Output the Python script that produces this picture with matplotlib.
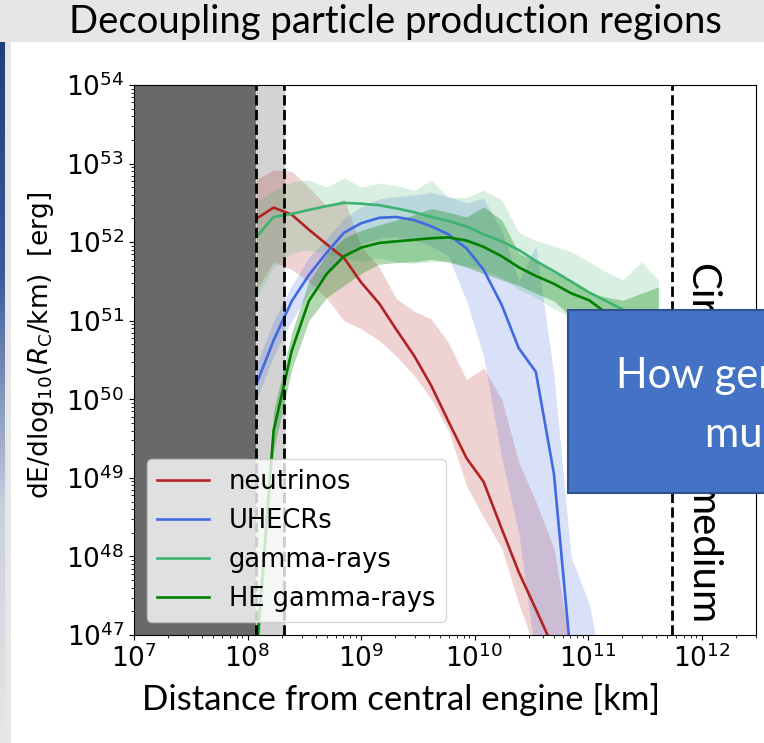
import numpy as np
import matplotlib.pyplot as plt
from matplotlib.patches import Rectangle
from matplotlib.colors import LinearSegmentedColormap

# slide is 764 x 743 px
W, H = 764, 743

# log10 of distance from central engine [km]
dist_log = [8.08, 8.23, 8.39, 8.54, 8.70, 8.85, 9.00, 9.16, 9.31, 9.47, 9.62, 9.77,
            9.93, 10.08, 10.24, 10.39, 10.54, 10.70, 10.85, 11.01, 11.16, 11.31, 11.47, 11.62]

# log10 of dE/dlog10(R) [erg] : median, upper and lower band
nu_mid = [52.30, 52.44, 52.35, 52.16, 51.97, 51.80, 51.49, 51.22, 50.89, 50.55, 50.17, 49.72,
          49.25, 48.95, 48.35, 47.80, 47.33, 46.82, 46.30]
nu_hi = [52.80, 52.92, 52.90, 52.70, 52.45, 52.55, 51.95, 51.68, 51.28, 51.12, 51.02, 50.72,
         50.25, 50.40, 50.00, 49.20, 48.70, 48.10, 46.80]
nu_lo = [51.40, 51.75, 51.65, 51.50, 51.28, 51.00, 50.90, 50.75, 50.55, 50.30, 50.00, 49.60,
         48.90, 48.50, 48.10, 47.40, 46.80, 46.30, 45.80]

cr_mid = [50.20, 50.75, 51.25, 51.58, 51.87, 52.12, 52.24, 52.31, 52.32, 52.28, 52.20, 52.10,
          51.92, 51.65, 51.20, 50.65, 50.35, 49.05, 46.70, 45.50, 45.00]
cr_hi = [50.45, 51.00, 51.45, 51.80, 52.05, 52.30, 52.45, 52.55, 52.58, 52.60, 52.63, 52.58,
         52.50, 52.56, 52.15, 51.50, 51.95, 50.30, 48.00, 47.40, 46.30]
cr_lo = [50.00, 50.55, 51.00, 51.35, 51.62, 51.85, 51.98, 52.05, 52.07, 52.02, 51.95, 51.82,
         51.25, 50.55, 49.25, 48.30, 46.70, 45.80, 45.00, 44.50, 44.00]

gam_mid = [52.07, 52.32, 52.36, 52.41, 52.46, 52.50, 52.49, 52.47, 52.43, 52.38, 52.32, 52.27,
           52.20, 52.10, 52.01, 51.90, 51.76, 51.63, 51.50, 51.36, 51.25, 51.14, 51.00, 50.88]
gam_hi = [52.51, 52.66, 52.77, 52.79, 52.70, 52.82, 52.70, 52.75, 52.72, 52.66, 52.79, 52.57,
          52.57, 52.66, 52.54, 52.12, 52.02, 51.95, 51.88, 51.75, 51.62, 51.52, 51.75, 51.52]
gam_lo = [51.30, 51.68, 51.86, 51.90, 51.85, 51.80, 51.75, 51.80, 51.75, 51.73, 51.75, 51.75,
          51.70, 51.65, 51.55, 51.40, 51.30, 51.15, 51.05, 50.90, 50.75, 50.65, 50.55, 50.45]

he_mid = [46.80, 49.60, 50.62, 51.25, 51.60, 51.82, 51.93, 51.99, 52.01, 52.03, 52.05, 52.06,
          52.02, 51.94, 51.82, 51.68, 51.57, 51.47, 51.35, 51.26, 51.10, 50.95, 50.80, 50.65]
he_hi = [47.10, 49.85, 50.85, 51.50, 51.85, 52.05, 52.15, 52.22, 52.28, 52.35, 52.43, 52.38,
         52.32, 52.45, 52.28, 51.86, 51.75, 51.62, 51.52, 51.35, 51.30, 51.26, 51.35, 51.43]
he_lo = [46.50, 49.35, 50.38, 51.00, 51.30, 51.45, 51.60, 51.72, 51.74, 51.75, 51.78, 51.75,
         51.68, 51.60, 51.52, 51.45, 51.35, 51.25, 51.05, 50.90, 50.75, 50.60, 50.45, 50.30]

# region boundaries [km]
r_inner = 1.19e8
r_outer = 2.1e8
r_csm = 5.46e11

series = [
    ('neutrinos', nu_mid, nu_hi, nu_lo, 'firebrick', 0.2),
    ('UHECRs', cr_mid, cr_hi, cr_lo, 'royalblue', 0.2),
    ('gamma-rays', gam_mid, gam_hi, gam_lo, 'mediumseagreen', 0.2),
    ('HE gamma-rays', he_mid, he_hi, he_lo, 'green', 0.3),
]


def fx(px):
    return px / W


def fy(py):
    return 1 - py / H


fig = plt.figure(figsize=(W / 100, H / 100), dpi=100)
fig.patch.set_facecolor('white')

# slide decoration: grey title band + left strip
fig.add_artist(Rectangle((0, fy(42)), 1, 1 - fy(42), transform=fig.transFigure,
                         facecolor='#e7e6e6', edgecolor='none', zorder=-2))
fig.add_artist(Rectangle((0, 0), fx(11), 1, transform=fig.transFigure,
                         facecolor='#e7e6e6', edgecolor='none', zorder=-2))
grad = np.linspace(0, 1, 256).reshape(-1, 1)
strip = fig.add_axes([0, 0, fx(5), fy(42)], zorder=-1)
strip.imshow(grad, aspect='auto', cmap=LinearSegmentedColormap.from_list(
    'strip', ['#1f3f7a', '#3a5a9a', '#c9d0dd', '#e7e6e6']))
strip.axis('off')

fig.text(fx(395), fy(22), 'Decoupling particle production regions', family='Lato',
         fontsize=27.5, ha='center', va='center')

ax = fig.add_axes([fx(134), fy(635), fx(756) - fx(134), fy(85) - fy(635)])

ax.axvspan(1e7, r_inner, color='dimgray', zorder=0)
ax.axvspan(r_inner, r_outer, color='lightgray', zorder=0)

for name, mid, hi, lo, col, a in series:
    n = len(mid)
    x = 10 ** np.array(dist_log[:n])
    ax.fill_between(x, 10 ** np.array(lo), 10 ** np.array(hi), color=col, alpha=a, lw=0)
    ax.plot(x, 10 ** np.array(mid), color=col, lw=1.9, label=name)

for r in (r_inner, r_outer, r_csm):
    ax.axvline(r, color='k', ls='--', lw=2)

ax.set_xscale('log')
ax.set_yscale('log')
ax.set_xlim(1e7, 10 ** 12.48)
ax.set_ylim(1e47, 1e54)
ax.set_yticks([10.0 ** k for k in range(47, 55)])
ax.tick_params(labelsize=19)
ax.set_ylabel(r'dE/dlog$_{10}$($R_\mathrm{C}$/km)  [erg]', fontsize=19)
ax.yaxis.set_label_coords(-0.125, 0.527)
ax.legend(loc='lower left', fontsize=18.5, labelspacing=0.5)

fig.text(fx(401), fy(700), 'Distance from central engine [km]', family='Lato',
         fontsize=25, ha='center', va='center')

# vertical region label, its middle sits under the blue box
fig.text(fx(702), fy(263), 'Circumstellar', family='Lato', fontsize=29,
         rotation=-90, ha='center', va='top', zorder=2)
fig.text(fx(702), fy(625), 'medium', family='Lato', fontsize=29,
         rotation=-90, ha='center', va='bottom', zorder=2)

# overlay box from the slide
fig.add_artist(Rectangle((fx(568), fy(493)), fx(800) - fx(568), fy(310) - fy(493),
                         transform=fig.transFigure, facecolor='#4472c4',
                         edgecolor='#2f528f', lw=1.5, zorder=4))
fig.text(fx(616), fy(388), 'How general is this', family='Lato', fontsize=30,
         color='white', ha='left', va='baseline', zorder=5)
fig.text(fx(705), fy(447), 'multi-messenger picture?', family='Lato', fontsize=30,
         color='white', ha='left', va='baseline', zorder=5)

fig.savefig('out.png', dpi=100)
